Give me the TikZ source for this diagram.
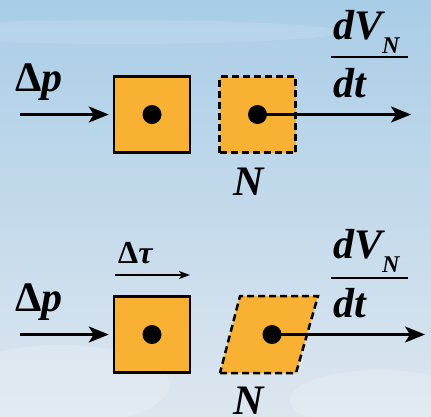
\documentclass[tikz,border=0pt]{standalone}
\usepackage{fontspec}
\setmainfont{Liberation Serif}
\usetikzlibrary{arrows.meta,positioning}
\definecolor{boxorange}{HTML}{F8B133}
\definecolor{skytop}{HTML}{A9CDE7}
\definecolor{skymid}{HTML}{C6DAEA}
\definecolor{skylow}{HTML}{DDE6EF}
\begin{document}
\begin{tikzpicture}[x=1pt, y=-1pt,
                    >={Stealth[length=20pt,width=16pt,inset=5pt]},
                    cell/.style={draw,fill=boxorange,line width=2.5pt,minimum size=76pt,inner sep=0pt},
                    ghost/.style={cell,dash pattern=on 7pt off 4pt},
                    dotmark/.style={circle,fill=black,minimum size=19pt,inner sep=0pt},
                    lbl/.style={font=\bfseries\itshape\fontsize{42}{46}\selectfont,inner sep=0pt},
                    small lbl/.style={font=\bfseries\itshape\fontsize{32}{34}\selectfont,inner sep=0pt},
                    flow/.style={->,line width=2.5pt}]
  \useasboundingbox (0,0) rectangle (431,416);
  % sky
  \begin{scope}
    \clip (0,0) rectangle (431,416);
    \shade[top color=skytop, middle color=skymid, bottom color=skylow] (0,0) rectangle (431,416);
    \fill[white,opacity=0.12] (120,32) ellipse (220 and 12);
    \fill[white,opacity=0.18] (60,385) ellipse (110 and 40);
    \fill[white,opacity=0.18] (380,400) ellipse (90 and 30);
  \end{scope}

  % top row: square shifted
  \node[cell] (a1) at (152,114.5) {};
  \node[dotmark] (p1) at (a1.center) {};
  \node[ghost] (b1) at (257.5,114.5) {};
  \node[dotmark] (q1) at (b1.center) {};
  \coordinate (in1) at (20,114.5);
  \coordinate (out1) at (411,114.5);
  \draw[flow, shorten >=4pt] (in1) -- (a1.west);
  \draw[flow] (q1.center) -- (out1);

  \node[lbl, anchor=base west] (dp1) at (15,91) {{\upshape Δ}p};
  \node[lbl, anchor=base west] (n1) at (233,195) {N};
  \node[lbl, anchor=base west] (num1) at (333,39) {dV\raisebox{-14pt}{\fontsize{24}{26}\selectfont N}};
  \node[lbl, anchor=base west] (den1) at (333,97) {dt};
  \coordinate (bl1) at (331,57);
  \coordinate (br1) at (408,57);
  \draw[line width=2pt] (bl1) -- (br1);

  % bottom row: sheared
  \node[cell] (a2) at (152,334.5) {};
  \node[dotmark] (p2) at (a2.center) {};
  \coordinate (s1) at (220,373);
  \coordinate (s2) at (296,373);
  \coordinate (s3) at (318,296);
  \coordinate (s4) at (240,296);
  \draw[fill=boxorange, line width=2.5pt, dash pattern=on 7pt off 4pt] (s1) -- (s2) -- (s3) -- (s4) -- cycle;
  \node[dotmark] (q2) at (272,334.5) {};
  \coordinate (in2) at (20,334.5);
  \coordinate (out2) at (425,334.5);
  \draw[flow, shorten >=4pt] (in2) -- (a2.west);
  \draw[flow] (q2.center) -- (out2);

  \node[small lbl, anchor=base west] (dtau) at (118,263) {{\upshape Δ}τ};
  \coordinate (tl) at (115,275);
  \coordinate (tr) at (190,275);
  \draw[->, line width=1.5pt, >={Stealth[length=11pt,width=8pt,inset=3pt]}] (tl) -- (tr);

  \node[lbl, anchor=base west] (dp2) at (15,311) {{\upshape Δ}p};
  \node[lbl, anchor=base west] (n2) at (233,414) {N};
  \node[lbl, anchor=base west] (num2) at (333,258) {dV\raisebox{-14pt}{\fontsize{24}{26}\selectfont N}};
  \node[lbl, anchor=base west] (den2) at (333,317) {dt};
  \coordinate (bl2) at (331,278);
  \coordinate (br2) at (408,278);
  \draw[line width=2pt] (bl2) -- (br2);
\end{tikzpicture}
\end{document}
